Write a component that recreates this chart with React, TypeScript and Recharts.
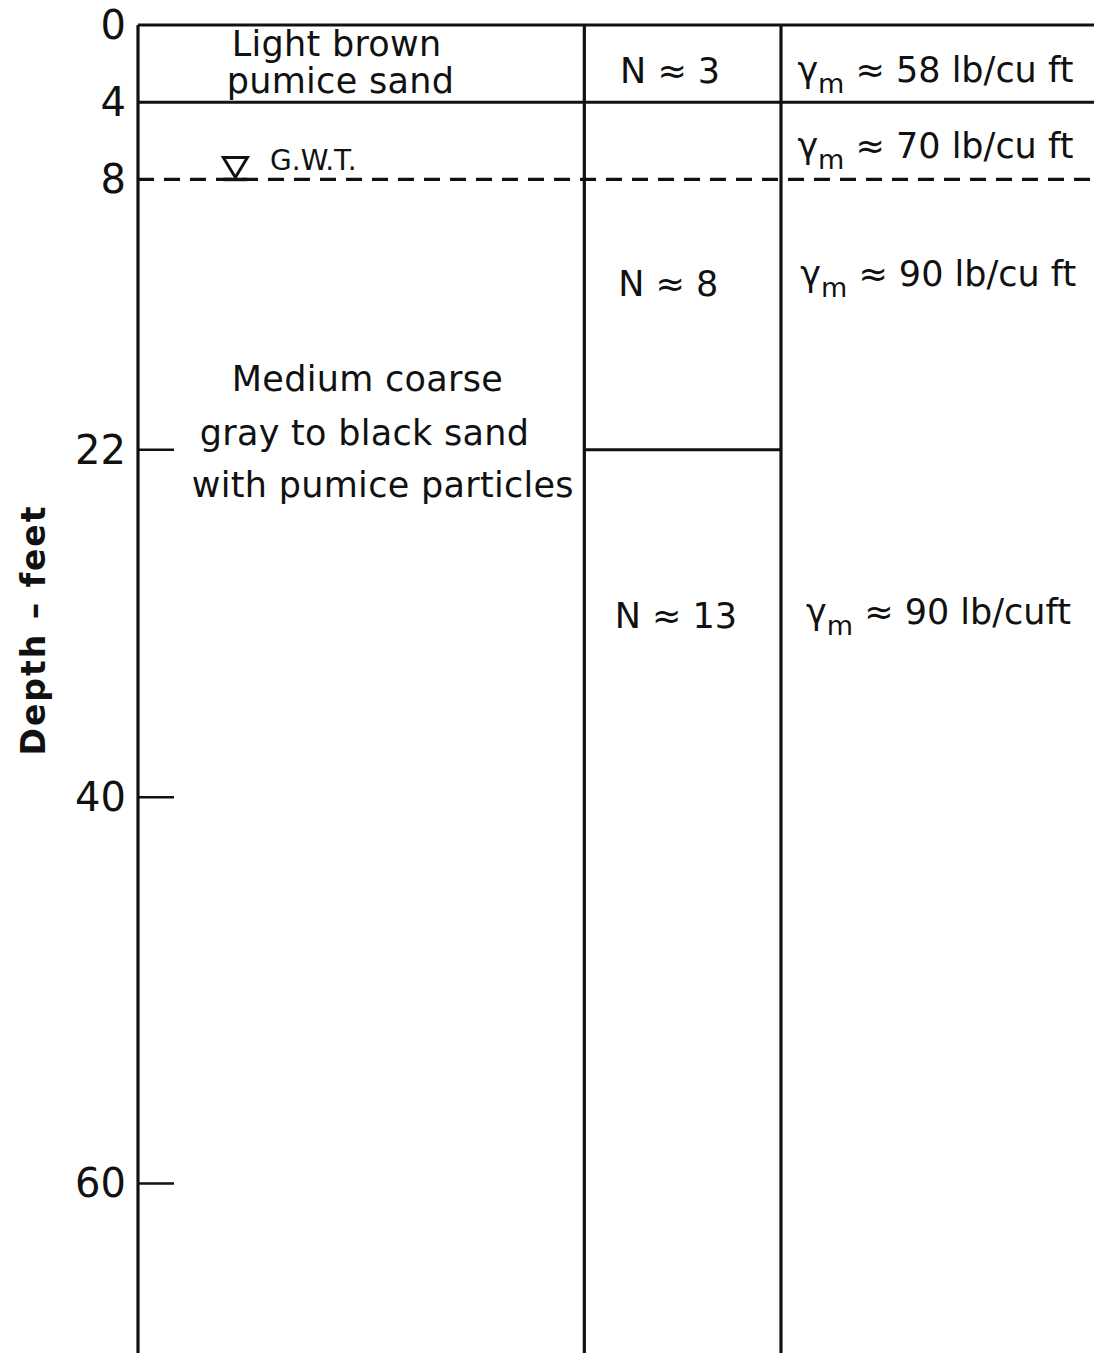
import React from 'react'
import { ComposedChart, XAxis, YAxis, ReferenceLine, ReferenceDot } from 'recharts'

// depth scale (feet)
const depthTicks = [0, 4, 8, 22, 40, 60]
const tickedDepths = [22, 40, 60]
const fullWidthBoundaries = [0, 4]
const waterTableDepth = 8
const nLayerBoundary = 22
const maxDepth = 69.2

// soil description column
const soilLines = ['Light brown', 'pumice sand', 'Medium coarse', 'gray to black sand', 'with pumice particles']
const soilLineDepths = [1.61, 3.52, 18.96, 21.76, 24.46]
const soilLineX = [20.6, 21.0, 23.8, 23.5, 25.4]

// standard penetration N
const nValues = [3, 8, 13]
const nDepths = [3.0, 14.04, 31.24]
const nX = [55.2, 55.0, 55.8]

// moist unit weight (lb/cu ft)
const unitWeights = [58, 70, 90, 90]
const unitWeightUnits = ['lb/cu ft', 'lb/cu ft', 'lb/cu ft', 'lb/cuft']
const unitWeightDepths = [2.95, 6.89, 13.52, 31.04]
const unitWeightX = [68.4, 68.4, 68.7, 69.3]

// column edges on a 0-100 horizontal scale
const COL_N = 46.3
const COL_GAMMA = 66.7
const COL_RIGHT = 99.5

const FONT = '"DejaVu Sans", sans-serif'
const INK = '#111'
const LINE_W = 3.2

function DepthTick(props: any) {
  const { x, y, payload } = props
  return (
    <g>
      <text x={x - 12} y={y + 14} textAnchor="end" fontSize={40} fontFamily={FONT} fill={INK}>
        {payload.value}
      </text>
      {tickedDepths.includes(payload.value) && (
        <line x1={x} x2={x + 36} y1={y} y2={y} stroke={INK} strokeWidth={2.5} />
      )}
    </g>
  )
}

function AxisTitle(props: any) {
  const { viewBox } = props
  const cx = viewBox.x + 33
  const cy = viewBox.y + 605
  return (
    <text
      x={cx}
      y={cy}
      transform={`rotate(-90 ${cx} ${cy})`}
      textAnchor="middle"
      dominantBaseline="central"
      fontSize={33}
      fontWeight="bold"
      letterSpacing={2}
      fontFamily={FONT}
      fill={INK}
    >
      Depth – feet
    </text>
  )
}

const textAt = (content: (cx: number, cy: number) => React.ReactNode) => (p: any) => (
  <g>{content(p.cx, p.cy)}</g>
)

export default function App() {
  return (
    <div style={{ width: 1102, height: 1361, margin: -8 }}>
      <ComposedChart
        width={1102}
        height={1361}
        data={[{ x: 0, depth: 0 }, { x: 100, depth: maxDepth }]}
        margin={{ top: 25, right: 0, bottom: 0, left: 0 }}
      >
        <XAxis type="number" dataKey="x" domain={[0, 100]} allowDataOverflow hide />
        <YAxis
          type="number"
          dataKey="depth"
          domain={[0, maxDepth]}
          reversed
          allowDataOverflow
          ticks={depthTicks}
          interval={0}
          width={138}
          tickSize={0}
          tickMargin={0}
          tickLine={false}
          axisLine={{ stroke: INK, strokeWidth: LINE_W }}
          tick={<DepthTick />}
          label={<AxisTitle />}
        />

        {/* layer boundaries */}
        {fullWidthBoundaries.map((d) => (
          <ReferenceLine
            key={`b-${d}`}
            segment={[{ x: 0, y: d }, { x: d === 0 ? COL_RIGHT : 100, y: d }]}
            stroke={INK}
            strokeWidth={LINE_W}
            ifOverflow="visible"
          />
        ))}
        <ReferenceLine
          segment={[{ x: COL_RIGHT, y: 0 }, { x: COL_RIGHT, y: 4 }]}
          stroke={INK}
          strokeWidth={LINE_W}
          ifOverflow="visible"
        />
        <ReferenceLine
          segment={[{ x: 0, y: waterTableDepth }, { x: 100, y: waterTableDepth }]}
          stroke={INK}
          strokeWidth={LINE_W}
          strokeDasharray="16 10"
          ifOverflow="visible"
        />
        <ReferenceLine
          segment={[{ x: COL_N, y: nLayerBoundary }, { x: COL_GAMMA, y: nLayerBoundary }]}
          stroke={INK}
          strokeWidth={LINE_W}
          ifOverflow="visible"
        />

        {/* column dividers */}
        {[COL_N, COL_GAMMA].map((c) => (
          <ReferenceLine
            key={`c-${c}`}
            segment={[{ x: c, y: 0 }, { x: c, y: maxDepth }]}
            stroke={INK}
            strokeWidth={LINE_W}
            ifOverflow="visible"
          />
        ))}

        {/* groundwater table symbol */}
        <ReferenceDot
          x={10.1}
          y={waterTableDepth}
          r={0}
          ifOverflow="visible"
          shape={textAt((cx, cy) => (
            <>
              <path
                d={`M${cx - 12},${cy - 22} L${cx + 12},${cy - 22} L${cx},${cy - 2} Z`}
                fill="none"
                stroke={INK}
                strokeWidth={3}
              />
              <line x1={cx - 12} x2={cx + 12} y1={cy} y2={cy} stroke={INK} strokeWidth={3.5} />
            </>
          ))}
        />
        <ReferenceDot
          x={13.7}
          y={7.51}
          r={0}
          ifOverflow="visible"
          shape={textAt((cx, cy) => (
            <text x={cx} y={cy} fontSize={28} fontFamily={FONT} fill={INK}>
              G.W.T.
            </text>
          ))}
        />

        {/* soil description */}
        {soilLines.map((s, i) => (
          <ReferenceDot
            key={`s-${i}`}
            x={soilLineX[i]}
            y={soilLineDepths[i]}
            r={0}
            ifOverflow="visible"
            shape={textAt((cx, cy) => (
              <text
                x={cx}
                y={cy}
                textAnchor="middle"
                fontSize={35}
                letterSpacing={0.3}
                fontFamily={FONT}
                fill={INK}
              >
                {s}
              </text>
            ))}
          />
        ))}

        {/* N values */}
        {nValues.map((n, i) => (
          <ReferenceDot
            key={`n-${i}`}
            x={nX[i]}
            y={nDepths[i]}
            r={0}
            ifOverflow="visible"
            shape={textAt((cx, cy) => (
              <text x={cx} y={cy} textAnchor="middle" fontSize={35} fontFamily={FONT} fill={INK}>
                {`N ≈ ${n}`}
              </text>
            ))}
          />
        ))}

        {/* unit weights */}
        {unitWeights.map((w, i) => (
          <ReferenceDot
            key={`g-${i}`}
            x={unitWeightX[i]}
            y={unitWeightDepths[i]}
            r={0}
            ifOverflow="visible"
            shape={textAt((cx, cy) => (
              <text x={cx} y={cy} fontSize={35} fontFamily={FONT} fill={INK}>
                <tspan>γ</tspan>
                <tspan dy={11} fontSize={27}>m</tspan>
                <tspan dy={-11}>{` ≈ ${w} ${unitWeightUnits[i]}`}</tspan>
              </text>
            ))}
          />
        ))}
      </ComposedChart>
    </div>
  )
}
